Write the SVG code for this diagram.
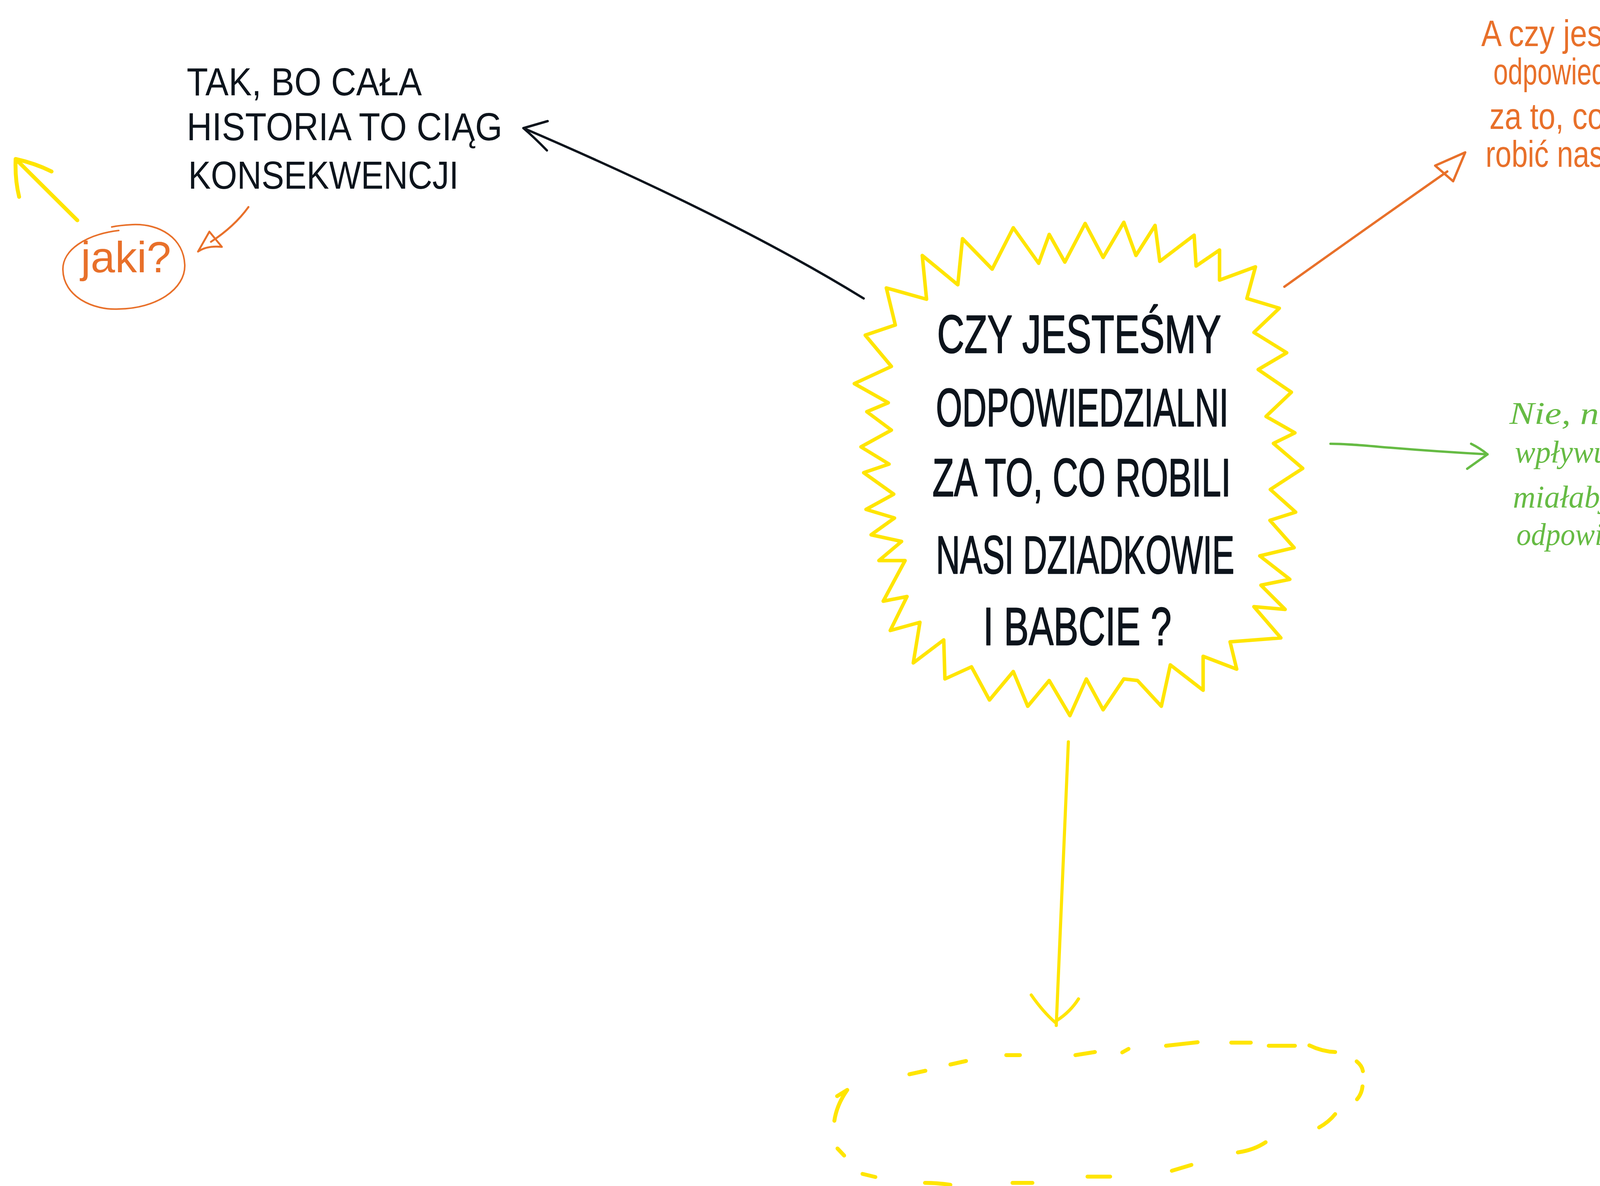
<svg xmlns="http://www.w3.org/2000/svg" width="4815" height="3036" viewBox="0 0 4815 3036">
<style>
.bg{fill:#ffffff}
.yel{fill:none;stroke:#FFE500;stroke-linecap:round;stroke-linejoin:round}
.org{fill:none;stroke:#E8702A;stroke-linecap:round;stroke-linejoin:round}
.blk{fill:none;stroke:#0D141C;stroke-linecap:round;stroke-linejoin:round}
.grn{fill:none;stroke:#66BB44;stroke-linecap:round;stroke-linejoin:round}
.main{font-family:"Liberation Sans","DejaVu Sans",sans-serif;font-size:138px;fill:#0D141C;stroke:#0D141C;stroke-width:2.5px;stroke-linejoin:round}
.tl{font-family:"Liberation Sans","DejaVu Sans",sans-serif;font-size:100px;fill:#0D141C}
.ot{font-family:"Liberation Sans","DejaVu Sans",sans-serif;font-size:95px;fill:#E8702A}
.gt{font-family:"Liberation Serif","DejaVu Serif",serif;font-style:italic;font-size:80px;fill:#66BB44}
.jk{font-family:"Liberation Sans","DejaVu Sans",sans-serif;font-size:112px;fill:#E8702A}
</style>
<rect class="bg" x="0" y="0" width="4815" height="3036"/>

<g id="connectors">
  <!-- black arrow: star -> top-left text -->
  <path class="blk" stroke-width="6" d="M2211,764 Q1880,560 1340,328"/>
  <path class="blk" stroke-width="6" d="M1402,310 L1340,328 Q1368,352 1400,385"/>
  <!-- orange arrow: star -> top-right text -->
  <path class="org" stroke-width="6" d="M3288,734 Q3521,568 3705,439"/>
  <path class="org" stroke-width="6" d="M3674,424 L3751,390 L3720,464 Z"/>
  <!-- green arrow: star -> right text -->
  <path class="grn" stroke-width="6" d="M3406,1136 C3480,1136 3560,1150 3808,1163"/>
  <path class="grn" stroke-width="6" d="M3766,1136 Q3790,1148 3808,1163 L3756,1200"/>
  <!-- yellow arrow: star -> dashed ellipse -->
  <path class="yel" stroke-width="8" d="M2735,1899 L2704,2625"/>
  <path class="yel" stroke-width="8" d="M2640,2547 Q2670,2590 2701,2617 M2761,2557 Q2740,2590 2706,2612"/>
  <!-- orange arrow: text -> jaki -->
  <path class="org" stroke-width="5" d="M636,530 Q600,580 540,619"/>
  <path class="org" stroke-width="5" d="M536,593 L507,644 Q530,628 568,632 Z"/>
  <!-- yellow arrow: jaki -> off top-left -->
  <path class="yel" stroke-width="10" d="M198,564 L45,412"/>
  <path class="yel" stroke-width="10" d="M49,504 Q38,460 40,407 Q90,418 132,439"/>
  <!-- yellow arrow: right edge -->
  <path class="yel" stroke-width="10" d="M4685,1241 L4840,1241"/>
  <path class="yel" stroke-width="10" d="M4780,1201 Q4812,1218 4832,1245 M4788,1305 Q4812,1285 4832,1250"/>
</g>

<g id="node-center">
  <polygon class="yel" stroke-width="9" points="2292,832 2269,737 2372,766 2361,654 2452,729 2464,611 2540,689 2594,583 2659,674 2686,600 2726,671 2778,572 2824,659 2877,569 2908,654 2957,577 2969,669 3057,602 3062,681 3122,640 3122,717 3214,683 3192,764 3275,789 3210,851 3294,903 3221,946 3306,1004 3241,1066 3315,1108 3260,1135 3335,1199 3252,1253 3317,1311 3251,1332 3313,1402 3225,1423 3302,1483 3228,1498 3290,1560 3210,1553 3279,1633 3149,1643 3166,1713 3080,1680 3080,1767 2996,1702 2973,1808 2912,1742 2877,1738 2824,1817 2781,1738 2739,1832 2686,1742 2631,1808 2594,1719 2533,1792 2487,1707 2419,1738 2416,1638 2338,1697 2355,1593 2279,1614 2322,1527 2261,1539 2317,1435 2250,1435 2308,1386 2230,1369 2290,1326 2217,1304 2288,1265 2211,1210 2276,1188 2204,1144 2282,1101 2219,1054 2274,1031 2187,982 2282,938 2215,858"/>
  <text class="main" x="2399" y="903" textLength="727" lengthAdjust="spacingAndGlyphs">CZY JESTEŚMY</text>
  <text class="main" x="2396" y="1091" textLength="749" lengthAdjust="spacingAndGlyphs">ODPOWIEDZIALNI</text>
  <text class="main" x="2387" y="1270" textLength="764" lengthAdjust="spacingAndGlyphs">ZA TO, CO ROBILI</text>
  <text class="main" x="2396" y="1468" textLength="764" lengthAdjust="spacingAndGlyphs">NASI DZIADKOWIE</text>
  <text class="main" x="2517" y="1651" textLength="482" lengthAdjust="spacingAndGlyphs">I BABCIE ?</text>
</g>

<g id="node-top-left">
  <text class="tl" x="478" y="244" textLength="602" lengthAdjust="spacingAndGlyphs">TAK, BO CAŁA</text>
  <text class="tl" x="478" y="359" textLength="808" lengthAdjust="spacingAndGlyphs">HISTORIA TO CIĄG</text>
  <text class="tl" x="482" y="483" textLength="692" lengthAdjust="spacingAndGlyphs">KONSEKWENCJI</text>
</g>

<g id="node-jaki">
  <path class="org" stroke-width="4" d="M304,590 C220,600 160,640 161,690 C162,760 240,795 304,791 C400,790 475,740 473,678 C470,610 410,572 339,575 C320,576 300,578 286,581"/>
  <text class="jk" x="207" y="697" textLength="231" lengthAdjust="spacingAndGlyphs">jaki?</text>
</g>

<g id="node-top-right">
  <text class="ot" x="3792" y="118" textLength="520" lengthAdjust="spacingAndGlyphs">A czy jesteśmy</text>
  <text class="ot" x="3823" y="216" textLength="443" lengthAdjust="spacingAndGlyphs">odpowiedzialni</text>
  <text class="ot" x="3813" y="330" textLength="489" lengthAdjust="spacingAndGlyphs">za to, co będą</text>
  <text class="ot" x="3803" y="427" textLength="656" lengthAdjust="spacingAndGlyphs">robić nasze dzieci ?</text>
</g>

<g id="node-right">
  <text class="gt" x="3864" y="1085" textLength="728" lengthAdjust="spacingAndGlyphs">Nie, nie mam na to</text>
  <text class="gt" x="3878" y="1184" textLength="724" lengthAdjust="spacingAndGlyphs">wpływu, więc dlaczego</text>
  <text class="gt" x="3873" y="1299" textLength="448" lengthAdjust="spacingAndGlyphs">miałabym być</text>
  <text class="gt" x="3882" y="1395" textLength="514" lengthAdjust="spacingAndGlyphs">odpowiedzialna?</text>
</g>

<g id="node-empty-ellipse" class="yel" stroke-width="10">
  <path d="M2136,2869 Q2142,2828 2169,2790 M2143,2806 L2169,2790"/>
  <path d="M2328,2750 L2369,2741"/>
  <path d="M2433,2725 L2473,2716"/>
  <path d="M2576,2701 L2611,2701"/>
  <path d="M2753,2701 L2803,2693"/>
  <path d="M2873,2694 L2889,2685"/>
  <path d="M2985,2677 L3066,2668"/>
  <path d="M3152,2669 L3202,2669"/>
  <path d="M3248,2677 L3315,2677"/>
  <path d="M3352,2676 Q3385,2692 3418,2693"/>
  <path d="M3473,2717 Q3487,2728 3489,2742"/>
  <path d="M3488,2781 Q3486,2800 3474,2814"/>
  <path d="M3418,2852 Q3402,2872 3377,2886"/>
  <path d="M3240,2924 Q3210,2944 3169,2950"/>
  <path d="M3050,2982 L3000,2997"/>
  <path d="M2842,3012 L2784,3012"/>
  <path d="M2643,3028 L2592,3028"/>
  <path d="M2433,3033 Q2400,3028 2368,3028"/>
  <path d="M2241,3013 L2208,3005"/>
  <path d="M2161,2958 L2144,2940"/>
</g>
</svg>
